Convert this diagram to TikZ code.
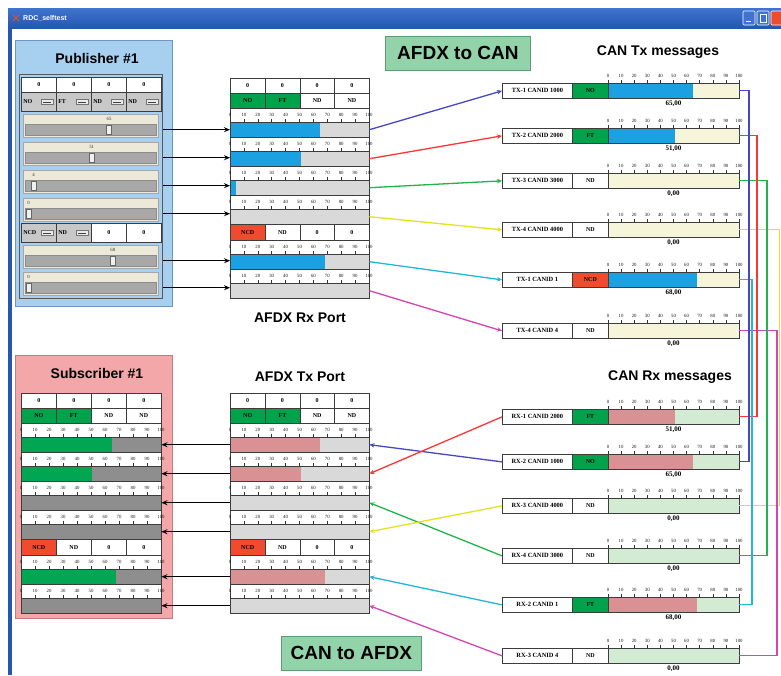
\documentclass[tikz,border=0pt]{standalone}
\usepackage{fontspec}
\setmainfont{Liberation Serif}
\setsansfont{Liberation Sans}
\usetikzlibrary{arrows.meta}
\definecolor{winblue}{HTML}{2556B0}
\definecolor{winblueL}{HTML}{3F74CE}
\definecolor{pubfill}{HTML}{A6CFF0}
\definecolor{pubedge}{HTML}{6E95BE}
\definecolor{subfill}{HTML}{F3A7A9}
\definecolor{subedge}{HTML}{C27B7E}
\definecolor{okgreen}{HTML}{00A24C}
\definecolor{ncdred}{HTML}{EE4C2C}
\definecolor{barblue}{HTML}{1BA1E2}
\definecolor{barpink}{HTML}{D99193}
\definecolor{bargreen}{HTML}{00A651}
\definecolor{restgrey}{HTML}{D9D9D9}
\definecolor{restdark}{HTML}{8E8E8E}
\definecolor{restyellow}{HTML}{F7F5D9}
\definecolor{restmint}{HTML}{D4EBD3}
\definecolor{beige}{HTML}{ECE9D8}
\definecolor{trackc}{HTML}{A8A8A8}
\definecolor{ddgrey}{HTML}{C8C8C8}
\definecolor{hdrfill}{HTML}{93D3AA}
\definecolor{hdredge}{HTML}{5E9C77}
\definecolor{edgec}{HTML}{3C3C3C}
\definecolor{lblue}{HTML}{4747C4}
\definecolor{lred}{HTML}{FF3535}
\definecolor{lgreen}{HTML}{23B34B}
\definecolor{lyellow}{HTML}{E2E21E}
\definecolor{lcyan}{HTML}{22B6DA}
\definecolor{lmag}{HTML}{D445B2}

% #1 prefix, #2 x0, #3 x1, #4 y of bar top
\newcommand{\scaleticks}[4]{%
  \foreach \k in {0,...,10}{%
    \pgfmathsetmacro{\sTx}{#2+(#3-#2)*\k/10}%
    \pgfmathtruncatemacro{\sTl}{10*\k}%
    \draw[tickln] (\sTx,#4) -- (\sTx,#4-3.5);
    \node[ticklab] (#1\k) at (\sTx,#4-7) {\sTl};
  }%
}
% #1 name, #2 x0, #3 x1, #4 top, #5 fraction, #6 fill, #7 rest
\newcommand{\gaugebar}[7]{%
  \pgfmathsetmacro{\gW}{#3-#2}%
  \node[barbox, fill=#7, minimum width=\gW pt] (#1) at (#2,#4) {};
  \pgfmathsetmacro{\gF}{#2+(#3-#2)*#5}%
  \fill[#6] (#2,#4) rectangle (\gF,#4+15);
  \draw[barline] (#1.north west) rectangle (#1.south east);
}
\newcommand{\afdxg}[7]{%
  \scaleticks{#1t}{#2}{#3}{#4+14}%
  \gaugebar{#1}{#2}{#3}{#4+14}{#5}{#6}{#7}%
}
% #1 prefix, #2 x0, #3 y, #4 cell width
\newcommand{\porttop}[4]{%
  \node[cell, fill=white, minimum width=#4pt, minimum height=15pt] (#1a0) at (#2,#3) {0};
  \node[cell, fill=white, minimum width=#4pt, minimum height=15pt] (#1a1) at (#2+#4,#3) {0};
  \node[cell, fill=white, minimum width=#4pt, minimum height=15pt] (#1a2) at (#2+2*#4,#3) {0};
  \node[cell, fill=white, minimum width=#4pt, minimum height=15pt] (#1a3) at (#2+3*#4,#3) {0};
  \node[cell, fill=okgreen, minimum width=#4pt, minimum height=15pt] (#1b0) at (#2,#3+15) {NO};
  \node[cell, fill=okgreen, minimum width=#4pt, minimum height=15pt] (#1b1) at (#2+#4,#3+15) {FT};
  \node[cell, fill=white, minimum width=#4pt, minimum height=15pt] (#1b2) at (#2+2*#4,#3+15) {ND};
  \node[cell, fill=white, minimum width=#4pt, minimum height=15pt] (#1b3) at (#2+3*#4,#3+15) {ND};
}
\newcommand{\portrowc}[4]{%
  \node[cell, fill=ncdred, minimum width=#4pt, minimum height=16pt] (#1c0) at (#2,#3) {NCD};
  \node[cell, fill=white, minimum width=#4pt, minimum height=16pt] (#1c1) at (#2+#4,#3) {ND};
  \node[cell, fill=white, minimum width=#4pt, minimum height=16pt] (#1c2) at (#2+2*#4,#3) {0};
  \node[cell, fill=white, minimum width=#4pt, minimum height=16pt] (#1c3) at (#2+3*#4,#3) {0};
}
% #1 name #2 x #3 y #4 h #5 text
\newcommand{\ddcell}[5]{%
  \node[cell, fill=ddgrey, minimum width=35pt, minimum height=#4pt] (#1) at (#2,#3) {};
  \node[cell, draw=none, anchor=west] (#1x) at (#2+2,#3+#4/2) {#5};
  \draw[draw=black!55, fill=black!8, line width=0.4] (#2+20,#3+#4/2-2.5) rectangle (#2+32,#3+#4/2+2.5);
  \draw[black!75, line width=0.8] (#2+22,#3+#4/2+1) -- (#2+30,#3+#4/2+1);
}
% #1 name #2 top #3 value
\newcommand{\pubslider}[3]{%
  \draw[draw=black!35, fill=beige, line width=0.5] (23,#2) rectangle (158,#2+23);
  \node[trackbox] (#1) at (25,#2+10) {};
  \pgfmathsetmacro{\sX}{28.5+1.24*#3}%
  \draw[draw=black!60, fill=black!6, line width=0.5] (\sX-2.5,#2+11) rectangle (\sX+2.5,#2+20);
  \node[slab] (#1l) at (\sX,#2+5) {#3};
}
% #1 name #2 top #3 label #4 status #5 status colour #6 frac #7 fill #8 rest #9 value
\newcommand{\canmsg}[9]{%
  \node[canlab] (#1) at (502,#2) {#3};
  \node[canstat, fill=#5] (#1s) at (572,#2) {#4};
  \scaleticks{#1t}{608}{739}{#2}%
  \gaugebar{#1b}{608}{739}{#2}{#6}{#7}{#8}%
  \node[valtext] (#1v) at (673.5,#2+21) {#9};
}

\begin{document}
\begin{tikzpicture}[x=1pt,y=-1pt,
  tickln/.style={draw=black!80, line width=0.5},
  ticklab/.style={font=\fontsize{4.8}{4.8}\selectfont, inner sep=0, text=black!90},
  barbox/.style={inner sep=0, minimum height=15pt, anchor=north west, draw=none},
  barline/.style={draw=edgec, line width=0.6},
  trackbox/.style={draw=black!45, fill=trackc, line width=0.4, inner sep=0, anchor=north west, minimum width=131pt, minimum height=11pt},
  slab/.style={font=\fontsize{4.8}{4.8}\selectfont, inner sep=0, text=black!80},
  cell/.style={draw=edgec, line width=0.6, inner sep=0, anchor=north west, font=\bfseries\fontsize{6}{6}\selectfont},
  canlab/.style={draw=edgec, line width=0.7, fill=white, inner sep=0, anchor=north west, minimum width=70pt, minimum height=15pt, font=\bfseries\fontsize{6.4}{6.4}\selectfont},
  canstat/.style={draw=edgec, line width=0.7, inner sep=0, anchor=north west, minimum width=36pt, minimum height=15pt, font=\bfseries\fontsize{6}{6}\selectfont},
  valtext/.style={font=\bfseries\fontsize{7}{7}\selectfont, inner sep=0},
  head/.style={font=\sffamily\bfseries\fontsize{14}{14}\selectfont, inner sep=0},
  bighead/.style={draw=hdredge, fill=hdrfill, line width=0.8, anchor=north west, font=\sffamily\bfseries\fontsize{19}{19}\selectfont, inner sep=0},
  frame/.style={draw=edgec, fill=white, line width=0.8, anchor=north west, inner sep=0},
  blk/.style={draw=black, line width=1.4, -{Stealth[length=6pt,width=5pt]}},
  conn/.style={line width=1.3, -{Stealth[length=5pt,width=4.5pt]}},
  loopln/.style={line width=1.4},
]
\useasboundingbox (0,0) rectangle (781,675);
\fill[white] (0,0) rectangle (781,675);

% ---------- window chrome ----------
\shade[top color=winblueL, bottom color=winblue] (8,8) rectangle (781,28);
\fill[winblue] (8,28) rectangle (12,675);
\draw[ncdred, line width=1] (13,15) -- (19,21) (13,21) -- (19,15);
\node[font=\sffamily\bfseries\fontsize{7}{7}\selectfont, text=white, anchor=west, inner sep=0] (wtitle) at (23,18) {RDC\_selftest};
\draw[fill=winblueL, draw=white, line width=0.6, rounded corners=1] (743,11) rectangle (755,25);
\draw[white, line width=1] (746,21) -- (751,21);
\draw[fill=winblueL, draw=white, line width=0.6, rounded corners=1] (757,11) rectangle (769,25);
\draw[white, line width=0.7] (760,14) rectangle (766,22);
\draw[fill=ncdred, draw=white, line width=0.6, rounded corners=1] (771,11) rectangle (784,25);

% ---------- headers ----------
\node[bighead, minimum width=145pt, minimum height=34pt] (hA) at (385,36) {AFDX to CAN};
\node[bighead, minimum width=140pt, minimum height=34pt] (hB) at (281,636) {CAN to AFDX};
\node[head] (cantxt) at (658,52) {CAN Tx messages};
\node[head] (canrxt) at (670,377) {CAN Rx messages};
\node[head] (rxt) at (300,318) {AFDX Rx Port};
\node[head] (txt) at (300,377) {AFDX Tx Port};

% ---------- Publisher ----------
\node[draw=pubedge, fill=pubfill, line width=1, anchor=north west, minimum width=157pt, minimum height=266pt, inner sep=0] (pub) at (15,40) {};
\node[head] (pubt) at (97,58) {Publisher \#1};
\node[draw=black!65, line width=0.8, anchor=north west, minimum width=143pt, minimum height=224pt, inner sep=0] (pubin) at (19,74) {};
\node[cell, fill=white, minimum width=35pt, minimum height=15pt] (pr1) at (21,77) {0};
\node[cell, fill=white, minimum width=35pt, minimum height=15pt] (pr2) at (56,77) {0};
\node[cell, fill=white, minimum width=35pt, minimum height=15pt] (pr3) at (91,77) {0};
\node[cell, fill=white, minimum width=35pt, minimum height=15pt] (pr4) at (126,77) {0};
\ddcell{pd1}{21}{92}{19}{NO}
\ddcell{pd2}{56}{92}{19}{FT}
\ddcell{pd3}{91}{92}{19}{ND}
\ddcell{pd4}{126}{92}{19}{ND}
\pubslider{ps1}{114}{65}
\pubslider{ps2}{142}{51}
\pubslider{ps3}{170}{4}
\pubslider{ps4}{198}{0}
\ddcell{pd5}{21}{223}{19}{NCD}
\ddcell{pd6}{56}{223}{19}{ND}
\node[cell, fill=white, minimum width=35pt, minimum height=19pt] (pr5) at (91,223) {0};
\node[cell, fill=white, minimum width=35pt, minimum height=19pt] (pr6) at (126,223) {0};
\pubslider{ps5}{245}{68}
\pubslider{ps6}{272}{0}

% ---------- AFDX Rx Port ----------
\node[frame, minimum width=139pt, minimum height=220pt] (rxp) at (230,78) {};
\porttop{rxc}{230}{78}{34.75}
\afdxg{rxg1}{230}{369}{108}{0.65}{barblue}{restgrey}
\afdxg{rxg2}{230}{369}{137}{0.51}{barblue}{restgrey}
\afdxg{rxg3}{230}{369}{166}{0.04}{barblue}{restgrey}
\afdxg{rxg4}{230}{369}{195}{0}{barblue}{restgrey}
\portrowc{rxd}{230}{224}{34.75}
\afdxg{rxg5}{230}{369}{240}{0.68}{barblue}{restgrey}
\afdxg{rxg6}{230}{369}{269}{0}{barblue}{restgrey}

% ---------- Subscriber ----------
\node[draw=subedge, fill=subfill, line width=1, anchor=north west, minimum width=157pt, minimum height=263pt, inner sep=0] (sub) at (15,355) {};
\node[head] (subt) at (97,373) {Subscriber \#1};
\node[frame, minimum width=140pt, minimum height=220pt] (subw) at (21,393) {};
\porttop{sbc}{21}{393}{35}
\afdxg{subg1}{21}{161}{423}{0.65}{bargreen}{restdark}
\afdxg{subg2}{21}{161}{452}{0.51}{bargreen}{restdark}
\afdxg{subg3}{21}{161}{481}{0.01}{bargreen}{restdark}
\afdxg{subg4}{21}{161}{510}{0.01}{bargreen}{restdark}
\portrowc{sbd}{21}{539}{35}
\afdxg{subg5}{21}{161}{555}{0.68}{bargreen}{restdark}
\afdxg{subg6}{21}{161}{584}{0.01}{bargreen}{restdark}

% ---------- AFDX Tx Port ----------
\node[frame, minimum width=139pt, minimum height=220pt] (txp) at (230,393) {};
\porttop{txc}{230}{393}{34.75}
\afdxg{txg1}{230}{369}{423}{0.65}{barpink}{restgrey}
\afdxg{txg2}{230}{369}{452}{0.51}{barpink}{restgrey}
\afdxg{txg3}{230}{369}{481}{0}{barpink}{restgrey}
\afdxg{txg4}{230}{369}{510}{0}{barpink}{restgrey}
\portrowc{txd}{230}{539}{34.75}
\afdxg{txg5}{230}{369}{555}{0.68}{barpink}{restgrey}
\afdxg{txg6}{230}{369}{584}{0}{barpink}{restgrey}

% ---------- CAN Tx messages ----------
\canmsg{ct1}{83}{TX-1 CANID 1000}{NO}{okgreen}{0.65}{barblue}{restyellow}{65,00}
\canmsg{ct2}{128}{TX-2 CANID 2000}{FT}{okgreen}{0.51}{barblue}{restyellow}{51,00}
\canmsg{ct3}{173}{TX-3 CANID 3000}{ND}{white}{0}{barblue}{restyellow}{0,00}
\canmsg{ct4}{222}{TX-4 CANID 4000}{ND}{white}{0}{barblue}{restyellow}{0,00}
\canmsg{ct5}{272}{TX-1 CANID 1}{NCD}{ncdred}{0.68}{barblue}{restyellow}{68,00}
\canmsg{ct6}{323}{TX-4 CANID 4}{ND}{white}{0}{barblue}{restyellow}{0,00}

% ---------- CAN Rx messages ----------
\canmsg{cr1}{409}{RX-1 CANID 2000}{FT}{okgreen}{0.51}{barpink}{restmint}{51,00}
\canmsg{cr2}{454}{RX-2 CANID 1000}{NO}{okgreen}{0.65}{barpink}{restmint}{65,00}
\canmsg{cr3}{498}{RX-3 CANID 4000}{ND}{white}{0}{barpink}{restmint}{0,00}
\canmsg{cr4}{548}{RX-4 CANID 3000}{ND}{white}{0}{barpink}{restmint}{0,00}
\canmsg{cr5}{597}{RX-2 CANID 1}{FT}{okgreen}{0.68}{barpink}{restmint}{68,00}
\canmsg{cr6}{648}{RX-3 CANID 4}{ND}{white}{0}{barpink}{restmint}{0,00}

% ---------- black arrows ----------
\foreach \i in {1,...,6}{
  \draw[blk] (ps\i.east -| pubin.east) -- (ps\i.east -| rxg\i.west);
  \draw[blk] (txg\i.west) -- (txg\i.west -| subg\i.east);
}

% ---------- AFDX Rx -> CAN Tx ----------
\draw[conn, lblue] (rxg1.east) -- (ct1.west);
\draw[conn, lred] (rxg2.east) -- (ct2.west);
\draw[conn, lgreen] (rxg3.east) -- (ct3.west);
\draw[conn, lyellow] (rxg4.east) -- (ct4.west);
\draw[conn, lcyan] (rxg5.east) -- (ct5.west);
\draw[conn, lmag] (rxg6.east) -- (ct6.west);

% ---------- CAN Tx -> CAN Rx loops ----------
\coordinate (vB) at (749,0);
\coordinate (vC) at (752,0);
\coordinate (vR) at (757,0);
\coordinate (vG) at (767,0);
\coordinate (vM) at (777,0);
\coordinate (vY) at (779.3,0);
\draw[loopln, lyellow] (ct4b.east) -- (ct4b.east -| vY) -- (cr3b.east -| vY) -- (cr3b.east);
\draw[loopln, lmag] (ct6b.east) -- (ct6b.east -| vM) -- (cr6b.east -| vM) -- (cr6b.east);
\draw[loopln, lgreen] (ct3b.east) -- (ct3b.east -| vG) -- (cr4b.east -| vG) -- (cr4b.east);
\draw[loopln, lred] (ct2b.east) -- (ct2b.east -| vR) -- (cr1b.east -| vR) -- (cr1b.east);
\draw[loopln, lcyan] (ct5b.east) -- (ct5b.east -| vC) -- (cr5b.east -| vC) -- (cr5b.east);
\draw[loopln, lblue] (ct1b.east) -- (ct1b.east -| vB) -- (cr2b.east -| vB) -- (cr2b.east);

% ---------- CAN Rx -> AFDX Tx ----------
\draw[conn, lblue] (cr2.west) -- (txg1.east);
\draw[conn, lred] (cr1.west) -- (txg2.east);
\draw[conn, lgreen] (cr4.west) -- (txg3.east);
\draw[conn, lyellow] (cr3.west) -- (txg4.east);
\draw[conn, lcyan] (cr5.west) -- (txg5.east);
\draw[conn, lmag] (cr6.west) -- (txg6.east);
\end{tikzpicture}
\end{document}
